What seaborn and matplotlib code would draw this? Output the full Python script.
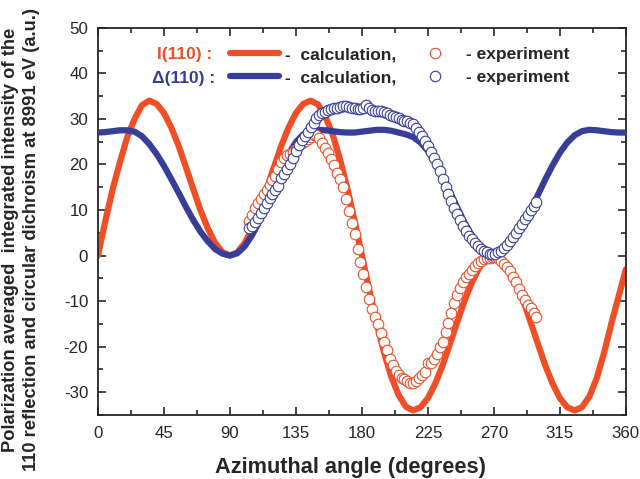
import matplotlib
matplotlib.use('Agg')
import matplotlib.pyplot as plt
from matplotlib.lines import Line2D
from matplotlib.ticker import MultipleLocator
import pandas as pd
import seaborn as sns

RED = '#EF4E26'
BLUE = '#373E97'

# calculated curves, every 5 degrees
calc_angle = list(range(0, 361, 5))
calc_I = [0, 7.5, 14.5, 20.5, 26, 30, 33, 34,
          33.3, 31.3, 28.1, 24.1, 19.4, 14.6, 9.9, 5.9, 2.7, 0.7, 0,
          0.7, 2.7, 5.9, 9.9, 14.6, 19.4, 24.1, 28.1, 31.3, 33.3, 34,
          33.2, 30.6, 26.6, 21.2, 14.8, 7.6, 0, -7.6, -14.8, -21.2, -26.6, -30.6, -33.2, -34,
          -33.3, -31.3, -28.1, -24.1, -19.4, -14.6, -9.9, -5.9, -2.7, -0.7, 0,
          -0.7, -2.7, -5.9, -9.9, -14.6, -19.4, -24.1, -28.1, -31.3, -33.3, -34,
          -33.3, -31, -27, -21.5, -15, -9, -3]
calc_D = [27.0, 27.1, 27.3, 27.5, 27.5, 27.2, 26.2, 24.5, 22.3, 19.7, 16.8, 13.8,
          10.7, 7.8, 5.2, 3.1, 1.4, 0.4, 0, 0.5, 2.0, 4.4, 7.5, 11.2, 15.2, 19,
          22.3, 24.9, 26.6, 27.4, 27.6, 27.5, 27.3, 27.1, 27.0, 27.0, 27.2, 27.4,
          27.6, 27.6, 27.4, 27.0, 26.6, 26.0, 24.8, 23.0, 20.5, 17.5, 14.0, 10.5,
          7.2, 4.4, 2.2, 0.6, 0, 0.6, 1.9, 4.1, 6.9, 10.0, 13.3, 16.7, 19.8, 22.6,
          24.8, 26.4, 27.3, 27.6, 27.5, 27.3, 27.1, 27.0, 27.0]

# experimental points, every 2 degrees from 103 to 299
exp_angle = list(range(103, 300, 2))
exp_I = [7.5, 9, 10.5, 11.5, 12.5, 13.5, 14.5, 15.5, 16.5, 17.5, 19, 20.5, 21.5,
         22, 22.3, 22.8, 23.5, 24.2, 24.8, 25.2, 25.6, 26, 26.5, 26.5, 25.7, 24.8,
         23.7, 22.6, 21.2, 19.8, 18.2, 16.8, 15, 12.5, 9.8, 7.2, 4.8, 1.5, -1.5,
         -4, -7, -9.5, -11.8, -13.5, -15, -17, -19, -20.8, -22.6, -24, -25.4,
         -26.3, -26.9, -27.2, -27.5, -27.9, -28, -27.6, -26.9, -26.3, -25.6,
         -23.6, -23.5, -22.8, -21.5, -20, -18.9, -16.8, -14.7, -12.5, -10.4, -8.6,
         -7.2, -5.8, -4.7, -4, -3.2, -2.3, -1.6, -1.1, -0.8, -0.6, -0.5, -0.4,
         -0.4, -0.6, -1.2, -1.8, -2.6, -3.3, -4.7, -5.9, -7.4, -8.6, -9.8, -10.8,
         -11.6, -12.5, -13.5]
exp_D = [6, 6.5, 7.3, 8.3, 9.3, 10.4, 11.6, 12.6, 13.6, 14.4, 15.2, 17, 18, 19,
         20.2, 21.4, 23, 24.3, 25.3, 26.3, 27.2, 28.2, 29.2, 30.1, 30.8, 31.3,
         31.6, 31.9, 32.1, 32.3, 32.5, 32.7, 32.9, 32.9, 32.7, 32.5, 32.3, 32.2,
         32.2, 32.4, 33, 32.3, 31.9, 31.8, 31.8, 31.7, 31.5, 31.2, 30.9, 30.6,
         30.4, 30.1, 29.8, 29.6, 29.5, 29.2, 28.8, 28, 27.2, 26.2, 25.2, 24,
         22.8, 21.5, 20, 18.5, 16.8, 15, 13.5, 12, 10.5, 9.1, 7.8, 6.5, 5.4, 4.4,
         3.6, 2.8, 2.1, 1.5, 1, 0.7, 0.4, 0.3, 0.4, 0.7, 1.1, 1.7, 2.4, 3.2, 4.1,
         5, 6, 7, 8, 9, 10, 10.9, 11.8]

calc = pd.DataFrame({'angle': calc_angle, 'I': calc_I, 'D': calc_D})
exp = pd.DataFrame({'angle': exp_angle, 'I': exp_I, 'D': exp_D})

sns.set_style('ticks')
plt.rcParams['font.family'] = ['Liberation Sans', 'DejaVu Sans']
plt.rcParams['axes.unicode_minus'] = False

fig = plt.figure(figsize=(6.4, 4.79), dpi=100)
ax = fig.add_axes([0.153, 0.1336, 0.825, 0.8084])

sns.lineplot(data=calc, x='angle', y='I', sort=False, color=RED, linewidth=4.5,
             solid_capstyle='round', ax=ax, zorder=2)
sns.lineplot(data=calc, x='angle', y='D', sort=False, color=BLUE, linewidth=4.5,
             solid_capstyle='round', ax=ax, zorder=3)
sns.scatterplot(data=exp, x='angle', y='I', s=58, color='white', edgecolor=RED,
                linewidth=0.8, ax=ax, zorder=4)
sns.scatterplot(data=exp, x='angle', y='D', s=58, color='white', edgecolor=BLUE,
                linewidth=0.8, ax=ax, zorder=5)

ax.set_xlim(0, 360)
ax.set_ylim(-35, 50)
ax.xaxis.set_major_locator(MultipleLocator(45))
ax.xaxis.set_minor_locator(MultipleLocator(22.5))
ax.yaxis.set_major_locator(MultipleLocator(10))
ax.yaxis.set_minor_locator(MultipleLocator(5))
ax.tick_params(which='both', direction='in', top=True, right=True, width=1.2,
               labelsize=12.2)
ax.tick_params(axis='x', pad=8)
ax.tick_params(axis='y', pad=7)
ax.tick_params(which='major', length=6)
ax.tick_params(which='minor', length=3.5)
for sp in ax.spines.values():
    sp.set_linewidth(1.3)

ax.set_xlabel('Azimuthal angle (degrees)', fontsize=15.7, fontweight='bold')
ax.xaxis.set_label_coords(0.479, -0.108)
ax.set_ylabel('')
fig.text(0.033, 0.5,
         'Polarization averaged  integrated intensity of the\n'
         '110 reflection and circular dichroism at 8991 eV (a.u.)',
         rotation=90, ha='center', va='center', fontsize=13.2,
         fontweight='bold', linespacing=1.3)

# legend block
handles = [
    Line2D([], [], color=RED, linewidth=4.5, solid_capstyle='round'),
    Line2D([], [], color=BLUE, linewidth=4.5, solid_capstyle='round'),
    Line2D([], [], linestyle='none', marker='o', markersize=7.5,
           markerfacecolor='white', markeredgecolor=RED, markeredgewidth=0.8),
    Line2D([], [], linestyle='none', marker='o', markersize=7.5,
           markerfacecolor='white', markeredgecolor=BLUE, markeredgewidth=0.8),
]
labels = ['-  calculation,', '-  calculation,', '- experiment', '- experiment']
ax.legend(handles, labels, ncol=2, loc='upper left', bbox_to_anchor=(0.251, 0.95),
          frameon=False, borderpad=0, borderaxespad=0, handlelength=2.8,
          handletextpad=0.35, columnspacing=0.85, labelspacing=0.45,
          prop={'size': 12.5, 'weight': 'bold'})
ax.text(0.216, 0.93, 'I(110) :', transform=ax.transAxes, ha='right', va='center',
        color=RED, fontsize=12.5, fontweight='bold')
ax.text(0.222, 0.868, '\u0394(110) :', transform=ax.transAxes, ha='right', va='center',
        color=BLUE, fontsize=12.5, fontweight='bold')

fig.savefig('out.png', dpi=100)
